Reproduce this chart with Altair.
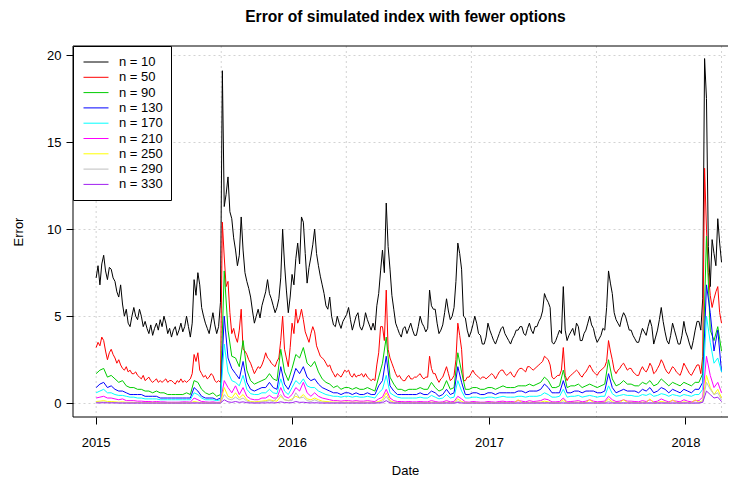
import altair as alt
import pandas as pd

title_text = "Error of simulated index with fewer options"
x_title = "Date"
y_title = "Error"

start_date = "2015-01-02"
# n = 10 and n = 50 are read twice a week, the other series once a week
fine_points, fine_step = 333, "84h"
coarse_points, coarse_step = 167, "7D"

series_names = ["n = 10", "n = 50", "n = 90", "n = 130", "n = 170",
                "n = 210", "n = 250", "n = 290", "n = 330"]
series_colors = ["#000000", "#FF0000", "#00CD00", "#0000FF", "#00FFFF",
                 "#FF00FF", "#FFFF00", "#BEBEBE", "#A020F0"]

year_ticks = [2015, 2016, 2017, 2018]
y_ticks = [0, 5, 10, 15, 20]

err_n10 = [
    7.2, 7.9, 6.8, 8.0, 8.5, 7.6, 7.1, 7.8, 7.7, 7.2,
    7.0, 6.4, 6.1, 6.8, 5.7, 5.0, 5.4, 4.6, 4.4, 5.0,
    5.5, 5.0, 4.8, 5.4, 5.0, 4.4, 4.7, 4.3, 4.0, 4.5,
    3.9, 4.3, 4.6, 4.2, 4.8, 4.4, 5.0, 4.6, 4.0, 4.3,
    3.8, 4.2, 4.4, 3.9, 4.2, 4.6, 4.1, 4.4, 5.0, 4.4,
    3.8, 4.6, 7.1, 6.2, 7.5, 6.8, 5.5, 5.0, 4.6, 4.3,
    4.0, 4.6, 5.2, 4.5, 4.0, 4.4, 5.8, 19.1, 11.3, 12.0,
    13.0, 11.0, 10.6, 9.5, 8.8, 7.9, 8.5, 10.7, 8.8, 7.5,
    7.0, 6.6, 6.1, 5.3, 4.6, 5.0, 5.4, 4.9, 5.6, 6.0,
    6.4, 7.1, 6.3, 6.0, 5.6, 5.2, 5.5, 6.0, 7.2, 10.0,
    8.0, 6.5, 5.2, 6.1, 7.4, 6.8, 8.3, 9.2, 8.0, 10.7,
    10.4, 8.6, 6.9, 7.8, 8.4, 9.1, 10.0, 8.6, 7.9, 7.3,
    6.8, 6.3, 5.6, 5.4, 6.1, 5.0, 4.5, 4.4, 5.0, 4.6,
    4.3, 4.7, 4.9, 5.1, 5.5, 4.8, 4.2, 4.6, 5.0, 5.2,
    4.4, 4.2, 4.5, 5.2, 4.8, 4.5, 4.2, 4.6, 4.2, 5.6,
    6.3, 7.6, 8.8, 7.5, 11.5, 9.0, 7.7, 6.2, 5.4, 4.6,
    4.3, 4.0, 3.8, 4.3, 4.4, 4.0, 4.3, 4.6, 4.2, 3.9,
    3.9, 4.4, 5.0, 4.6, 4.4, 4.1, 4.3, 6.5, 5.6, 5.4,
    5.4, 4.6, 4.0, 4.2, 4.5, 5.2, 6.0, 5.3, 4.8, 5.0,
    5.5, 7.0, 9.2, 8.6, 7.7, 5.0, 4.9, 4.2, 3.8, 4.1,
    4.5, 5.0, 4.6, 4.0, 3.9, 3.4, 3.4, 3.8, 4.6, 4.2,
    3.9, 3.6, 3.4, 3.7, 4.0, 4.3, 4.4, 4.0, 3.8, 3.6,
    3.4, 3.7, 3.9, 4.2, 4.2, 4.4, 4.4, 4.0, 3.9, 4.3,
    4.6, 4.2, 4.0, 4.4, 4.4, 4.7, 4.9, 5.3, 6.3, 6.0,
    5.8, 5.5, 3.5, 3.4, 3.6, 3.9, 4.2, 4.0, 6.7, 4.2,
    3.6, 3.9, 4.1, 4.3, 3.9, 4.6, 4.4, 3.6, 3.6, 4.0,
    4.2, 4.6, 5.0, 4.5, 4.3, 3.8, 3.5, 3.7, 3.9, 4.3,
    4.2, 5.5, 7.6, 6.9, 6.3, 5.2, 4.8, 4.6, 4.4, 4.9,
    5.2, 5.0, 4.6, 4.2, 4.2, 3.9, 3.7, 3.5, 3.5, 3.9,
    4.3, 4.1, 3.9, 4.4, 4.8, 4.4, 3.4, 3.8, 4.2, 4.8,
    5.5, 4.7, 4.1, 3.6, 3.4, 3.9, 4.6, 4.2, 3.8, 3.4,
    3.4, 3.9, 4.7, 4.1, 3.8, 3.4, 3.1, 3.6, 4.2, 4.7,
    4.7, 4.2, 6.0, 19.8, 17.5, 9.0, 6.7, 9.4, 8.6, 7.9,
    10.6, 9.2, 8.1,
]

err_n50 = [
    3.2, 3.5, 3.3, 3.8, 3.6, 3.0, 2.5, 2.9, 3.1, 2.8,
    2.6, 2.3, 2.5, 2.2, 2.0, 1.9, 2.1, 1.8, 1.9, 1.7,
    1.7, 1.8, 1.6, 1.5, 1.4, 1.6, 1.3, 1.4, 1.5, 1.3,
    1.2, 1.3, 1.4, 1.2, 1.3, 1.2, 1.3, 1.4, 1.2, 1.3,
    1.3, 1.2, 1.1, 1.3, 1.2, 1.4, 1.2, 1.3, 1.2, 1.3,
    1.4, 1.7, 2.8, 2.4, 2.9, 1.9, 1.7, 1.5, 1.6, 1.4,
    1.5, 1.7, 1.6, 1.3, 1.2, 1.3, 1.2, 10.4, 8.4, 6.7,
    7.0, 5.2, 4.0, 4.3, 3.8, 3.5, 4.2, 5.4, 3.1, 3.0,
    2.8, 2.5, 2.3, 2.0, 1.7, 1.9, 2.1, 2.0, 2.2, 2.5,
    2.9, 2.6, 2.5, 2.3, 2.2, 2.1, 2.4, 2.6, 3.6, 5.0,
    3.1, 2.6, 2.1, 3.2, 4.6, 4.0, 5.4, 4.6, 4.9, 5.4,
    4.8, 4.1, 3.8, 3.5, 4.0, 4.4, 4.1, 3.3, 3.0, 2.7,
    2.6, 2.5, 2.3, 2.1, 2.2, 1.9, 1.7, 1.5, 1.7, 1.6,
    1.5, 1.7, 1.9, 1.8, 1.9, 1.6, 1.5, 1.7, 1.5, 1.6,
    1.6, 1.7, 1.5, 1.7, 1.5, 1.4, 1.3, 1.4, 1.3, 2.2,
    2.9, 4.4, 4.4, 3.6, 6.5, 3.1, 2.6, 2.3, 2.0, 1.7,
    1.5, 1.6, 1.4, 1.3, 1.3, 1.5, 1.6, 1.4, 1.4, 1.5,
    1.5, 1.6, 1.7, 1.5, 1.4, 1.5, 1.5, 2.7, 2.0, 1.7,
    1.7, 1.4, 1.2, 1.4, 1.5, 1.8, 2.1, 1.7, 1.3, 1.4,
    1.6, 2.5, 4.6, 3.9, 3.1, 1.3, 1.3, 1.5, 1.5, 1.7,
    1.9, 1.7, 1.6, 1.5, 1.4, 1.5, 1.5, 1.4, 1.5, 1.6,
    1.7, 1.6, 1.4, 1.6, 1.8, 1.9, 1.9, 1.7, 1.6, 1.7,
    1.8, 1.6, 1.5, 1.7, 1.9, 2.0, 2.0, 1.9, 1.8, 2.1,
    2.1, 2.0, 1.9, 2.0, 2.1, 2.2, 2.3, 2.4, 2.7, 2.6,
    2.5, 2.2, 1.5, 1.4, 1.5, 1.6, 1.6, 1.9, 3.2, 1.6,
    1.3, 1.5, 1.6, 1.7, 1.8, 1.9, 1.8, 1.6, 1.5, 1.7,
    1.8, 2.0, 2.2, 2.0, 1.8, 1.7, 1.6, 1.8, 1.9, 2.0,
    2.1, 2.4, 3.6, 3.0, 2.5, 1.9, 1.7, 1.9, 2.0, 2.2,
    2.3, 2.1, 1.9, 2.0, 2.0, 1.8, 1.7, 1.6, 1.6, 1.9,
    2.1, 1.9, 1.8, 2.0, 2.3, 2.1, 1.7, 1.8, 2.0, 2.2,
    2.5, 2.3, 2.0, 1.8, 1.7, 1.9, 2.1, 2.0, 1.8, 1.7,
    1.6, 1.9, 2.3, 2.1, 1.9, 1.7, 1.6, 1.8, 2.0, 2.2,
    2.2, 1.7, 2.7, 13.5, 10.0, 7.5, 6.2, 5.5, 6.0, 6.4,
    6.7, 5.2, 4.6,
]

err_n90 = [
    1.7, 1.9, 2.0, 1.5, 1.6, 1.4, 1.2, 1.3, 1.0, 0.9,
    0.9, 0.8, 0.8, 0.7, 0.7, 0.6, 0.7, 0.6, 0.6, 0.5,
    0.5, 0.5, 0.5, 0.5, 0.6, 0.5, 1.3, 1.2, 0.8, 0.6,
    0.5, 0.6, 0.4, 0.5, 7.6, 4.2, 2.7, 2.6, 2.1, 3.6,
    1.9, 1.3, 1.1, 1.2, 1.3, 1.4, 1.7, 1.4, 1.3, 3.1,
    1.8, 1.3, 2.0, 2.8, 2.6, 3.2, 2.3, 2.1, 2.4, 1.8,
    1.4, 1.2, 1.1, 0.9, 1.0, 0.8, 0.9, 0.9, 0.8, 0.9,
    0.8, 0.8, 0.9, 0.8, 0.7, 1.5, 2.3, 3.8, 1.5, 1.1,
    0.8, 0.8, 0.7, 0.8, 0.8, 0.8, 0.9, 0.8, 0.8, 1.2,
    0.9, 0.7, 0.8, 1.3, 0.8, 0.9, 2.9, 1.8, 0.8, 0.8,
    0.9, 0.9, 0.8, 0.8, 0.9, 0.9, 0.8, 0.9, 1.0, 0.9,
    0.9, 0.9, 1.0, 1.0, 1.0, 1.1, 1.0, 1.1, 1.2, 1.5,
    1.3, 0.9, 0.9, 1.0, 1.9, 0.9, 1.0, 1.0, 1.1, 0.9,
    1.0, 1.1, 1.0, 0.9, 1.0, 1.1, 2.5, 1.4, 1.0, 1.1,
    1.3, 1.1, 1.1, 1.0, 1.0, 1.2, 1.1, 1.3, 1.0, 1.1,
    1.4, 1.2, 1.0, 1.2, 1.1, 1.0, 1.2, 1.1, 1.0, 1.2,
    1.2, 1.7, 9.6, 4.2, 3.6, 4.4, 3.0,
]

err_n130 = [
    0.9, 1.1, 1.2, 0.9, 1.0, 0.8, 0.7, 0.7, 0.6, 0.5,
    0.5, 0.5, 0.5, 0.4, 0.4, 0.4, 0.4, 0.3, 0.3, 0.3,
    0.3, 0.3, 0.3, 0.3, 0.3, 0.3, 0.9, 0.7, 0.4, 0.3,
    0.3, 0.3, 0.2, 0.3, 5.0, 2.6, 2.0, 1.7, 1.4, 2.4,
    1.2, 0.8, 0.7, 0.8, 0.9, 0.9, 1.2, 0.9, 0.8, 2.1,
    1.1, 0.8, 1.3, 2.0, 1.7, 2.1, 1.5, 1.3, 1.4, 1.1,
    0.9, 0.8, 0.7, 0.6, 0.6, 0.5, 0.6, 0.6, 0.5, 0.6,
    0.5, 0.5, 0.6, 0.5, 0.5, 1.0, 1.3, 2.7, 1.0, 0.7,
    0.5, 0.5, 0.5, 0.5, 0.5, 0.5, 0.6, 0.5, 0.5, 0.7,
    0.6, 0.4, 0.5, 0.8, 0.5, 0.6, 2.1, 1.2, 0.5, 0.5,
    0.6, 0.6, 0.5, 0.5, 0.6, 0.6, 0.5, 0.6, 0.6, 0.6,
    0.6, 0.6, 0.7, 0.7, 0.6, 0.7, 0.7, 0.7, 0.8, 1.1,
    0.9, 0.6, 0.6, 0.6, 1.3, 0.6, 0.6, 0.7, 0.7, 0.6,
    0.7, 0.7, 0.7, 0.6, 0.6, 0.7, 1.7, 0.9, 0.6, 0.7,
    0.8, 0.7, 0.7, 0.7, 0.6, 0.8, 0.7, 0.9, 0.6, 0.7,
    0.9, 0.8, 0.6, 0.8, 0.7, 0.6, 0.8, 0.7, 0.6, 0.8,
    0.8, 1.2, 6.8, 5.2, 3.0, 4.2, 1.8,
]

err_n170 = [
    0.6, 0.7, 0.8, 0.6, 0.6, 0.5, 0.45, 0.45, 0.4, 0.35,
    0.35, 0.3, 0.3, 0.25, 0.25, 0.25, 0.25, 0.2, 0.2, 0.2,
    0.2, 0.2, 0.2, 0.2, 0.2, 0.2, 0.6, 0.5, 0.3, 0.2,
    0.2, 0.2, 0.15, 0.2, 3.4, 1.8, 1.3, 1.2, 1.0, 1.6,
    0.8, 0.55, 0.5, 0.5, 0.6, 0.6, 0.8, 0.6, 0.55, 1.4,
    0.7, 0.5, 0.9, 1.3, 1.1, 1.4, 1.0, 0.9, 0.9, 0.7,
    0.6, 0.5, 0.45, 0.4, 0.4, 0.35, 0.4, 0.4, 0.35, 0.4,
    0.35, 0.35, 0.4, 0.35, 0.3, 0.6, 0.8, 1.6, 0.6, 0.45,
    0.35, 0.3, 0.3, 0.3, 0.3, 0.3, 0.35, 0.3, 0.3, 0.45,
    0.35, 0.25, 0.3, 0.5, 0.3, 0.35, 1.3, 0.7, 0.3, 0.3,
    0.35, 0.35, 0.3, 0.3, 0.35, 0.35, 0.3, 0.35, 0.4, 0.35,
    0.35, 0.35, 0.4, 0.4, 0.35, 0.4, 0.4, 0.4, 0.45, 0.6,
    0.5, 0.35, 0.35, 0.4, 0.8, 0.35, 0.4, 0.4, 0.45, 0.35,
    0.4, 0.45, 0.4, 0.35, 0.4, 0.4, 1.0, 0.55, 0.4, 0.45,
    0.5, 0.45, 0.45, 0.4, 0.4, 0.5, 0.45, 0.55, 0.4, 0.45,
    0.55, 0.5, 0.4, 0.5, 0.45, 0.4, 0.5, 0.45, 0.4, 0.5,
    0.5, 0.8, 5.0, 3.5, 2.3, 2.6, 1.8,
]

err_n210 = [
    0.3, 0.35, 0.4, 0.3, 0.3, 0.25, 0.2, 0.25, 0.15, 0.15,
    0.15, 0.12, 0.12, 0.1, 0.1, 0.08, 0.1, 0.08, 0.08, 0.06,
    0.06, 0.06, 0.06, 0.08, 0.08, 0.06, 0.3, 0.2, 0.1, 0.08,
    0.06, 0.08, 0.05, 0.06, 1.3, 0.9, 0.6, 1.0, 0.5, 0.9,
    0.4, 0.25, 0.2, 0.2, 0.3, 0.3, 0.45, 0.3, 0.3, 0.9,
    0.4, 0.3, 0.5, 0.9, 0.7, 1.2, 0.6, 0.4, 0.6, 0.4,
    0.3, 0.25, 0.2, 0.15, 0.15, 0.12, 0.15, 0.15, 0.12, 0.15,
    0.12, 0.12, 0.15, 0.12, 0.1, 0.25, 0.35, 0.8, 0.3, 0.15,
    0.1, 0.1, 0.08, 0.1, 0.08, 0.08, 0.1, 0.08, 0.08, 0.15,
    0.1, 0.06, 0.08, 0.15, 0.08, 0.1, 0.4, 0.25, 0.08, 0.06,
    0.1, 0.08, 0.06, 0.06, 0.1, 0.08, 0.06, 0.1, 0.12, 0.08,
    0.1, 0.08, 0.15, 0.12, 0.08, 0.15, 0.1, 0.12, 0.15, 0.25,
    0.2, 0.08, 0.08, 0.1, 0.3, 0.08, 0.1, 0.12, 0.15, 0.08,
    0.12, 0.2, 0.12, 0.08, 0.1, 0.12, 0.4, 0.2, 0.1, 0.12,
    0.2, 0.12, 0.12, 0.1, 0.08, 0.15, 0.1, 0.2, 0.08, 0.12,
    0.25, 0.15, 0.08, 0.15, 0.12, 0.08, 0.2, 0.12, 0.08, 0.15,
    0.15, 0.35, 2.7, 1.6, 0.9, 1.2, 0.6,
]

err_n250 = [
    0.1, 0.12, 0.15, 0.1, 0.1, 0.08, 0.06, 0.08, 0.05, 0.05,
    0.05, 0.04, 0.04, 0.03, 0.03, 0.03, 0.03, 0.02, 0.02, 0.02,
    0.02, 0.02, 0.02, 0.02, 0.03, 0.02, 0.1, 0.06, 0.03, 0.02,
    0.02, 0.02, 0.02, 0.02, 0.9, 0.4, 0.3, 0.6, 0.3, 0.5,
    0.2, 0.1, 0.08, 0.1, 0.12, 0.15, 0.2, 0.15, 0.12, 0.4,
    0.2, 0.15, 0.25, 0.4, 0.3, 0.5, 0.25, 0.2, 0.3, 0.2,
    0.12, 0.1, 0.08, 0.06, 0.06, 0.05, 0.06, 0.06, 0.05, 0.06,
    0.05, 0.05, 0.06, 0.05, 0.04, 0.1, 0.2, 0.6, 0.15, 0.06,
    0.04, 0.04, 0.03, 0.04, 0.03, 0.03, 0.04, 0.03, 0.03, 0.06,
    0.04, 0.03, 0.03, 0.06, 0.03, 0.04, 0.25, 0.1, 0.03, 0.03,
    0.04, 0.03, 0.03, 0.03, 0.04, 0.03, 0.03, 0.04, 0.05, 0.03,
    0.04, 0.03, 0.2, 0.04, 0.03, 0.06, 0.04, 0.05, 0.06, 0.12,
    0.08, 0.03, 0.03, 0.04, 0.2, 0.03, 0.04, 0.05, 0.06, 0.03,
    0.05, 0.2, 0.05, 0.03, 0.04, 0.05, 0.25, 0.08, 0.04, 0.05,
    0.2, 0.05, 0.05, 0.04, 0.03, 0.06, 0.04, 0.25, 0.03, 0.05,
    0.1, 0.06, 0.03, 0.2, 0.05, 0.03, 0.08, 0.05, 0.03, 0.2,
    0.06, 0.15, 1.6, 0.9, 0.5, 0.8, 0.3,
]

err_n290 = [
    0.05, 0.06, 0.07, 0.05, 0.05, 0.04, 0.03, 0.03, 0.02, 0.02,
    0.02, 0.02, 0.02, 0.01, 0.01, 0.01, 0.01, 0.01, 0.01, 0.01,
    0.01, 0.01, 0.01, 0.01, 0.01, 0.01, 0.05, 0.03, 0.01, 0.01,
    0.01, 0.01, 0.01, 0.01, 0.5, 0.25, 0.2, 0.35, 0.2, 0.3,
    0.12, 0.06, 0.05, 0.05, 0.08, 0.1, 0.15, 0.1, 0.3, 0.5,
    0.2, 0.15, 0.15, 0.6, 0.3, 0.35, 0.15, 0.1, 0.2, 0.1,
    0.06, 0.05, 0.04, 0.03, 0.03, 0.03, 0.03, 0.03, 0.02, 0.03,
    0.02, 0.02, 0.03, 0.02, 0.02, 0.05, 0.1, 0.4, 0.08, 0.03,
    0.02, 0.02, 0.01, 0.02, 0.01, 0.01, 0.02, 0.01, 0.01, 0.02,
    0.02, 0.01, 0.01, 0.03, 0.01, 0.02, 0.12, 0.05, 0.01, 0.01,
    0.02, 0.01, 0.01, 0.01, 0.02, 0.01, 0.01, 0.02, 0.02, 0.01,
    0.02, 0.01, 0.03, 0.02, 0.01, 0.02, 0.02, 0.02, 0.03, 0.05,
    0.04, 0.01, 0.01, 0.02, 0.08, 0.01, 0.02, 0.02, 0.02, 0.01,
    0.02, 0.03, 0.02, 0.01, 0.02, 0.02, 0.1, 0.04, 0.02, 0.02,
    0.03, 0.02, 0.02, 0.02, 0.01, 0.02, 0.02, 0.03, 0.01, 0.02,
    0.03, 0.02, 0.01, 0.02, 0.02, 0.01, 0.03, 0.02, 0.01, 0.02,
    0.03, 0.1, 1.2, 0.8, 0.5, 0.6, 0.2,
]

err_n330 = [
    0.02, 0.02, 0.03, 0.02, 0.02, 0.02, 0.01, 0.01, 0.01, 0.01,
    0.01, 0.01, 0.01, 0.01, 0.01, 0.01, 0.01, 0.01, 0.01, 0.01,
    0.01, 0.01, 0.01, 0.01, 0.01, 0.01, 0.01, 0.01, 0.01, 0.01,
    0.01, 0.01, 0.01, 0.01, 0.2, 0.08, 0.05, 0.1, 0.05, 0.08,
    0.03, 0.02, 0.01, 0.01, 0.02, 0.02, 0.03, 0.02, 0.03, 0.08,
    0.04, 0.03, 0.03, 0.1, 0.05, 0.06, 0.03, 0.02, 0.03, 0.02,
    0.01, 0.01, 0.01, 0.01, 0.01, 0.01, 0.01, 0.01, 0.01, 0.01,
    0.01, 0.01, 0.01, 0.01, 0.01, 0.02, 0.03, 0.15, 0.02, 0.01,
    0.01, 0.01, 0.01, 0.01, 0.01, 0.01, 0.01, 0.01, 0.01, 0.01,
    0.01, 0.01, 0.01, 0.01, 0.01, 0.01, 0.04, 0.01, 0.01, 0.01,
    0.01, 0.01, 0.01, 0.01, 0.01, 0.01, 0.01, 0.01, 0.01, 0.01,
    0.01, 0.01, 0.01, 0.01, 0.01, 0.01, 0.01, 0.01, 0.01, 0.01,
    0.01, 0.01, 0.01, 0.01, 0.01, 0.01, 0.01, 0.01, 0.01, 0.01,
    0.01, 0.01, 0.01, 0.01, 0.01, 0.01, 0.01, 0.01, 0.01, 0.01,
    0.01, 0.01, 0.01, 0.01, 0.01, 0.01, 0.01, 0.01, 0.01, 0.01,
    0.01, 0.01, 0.01, 0.01, 0.01, 0.01, 0.01, 0.01, 0.01, 0.01,
    0.01, 0.05, 0.7, 0.5, 0.3, 0.35, 0.1,
]

all_series = [err_n10, err_n50, err_n90, err_n130, err_n170,
              err_n210, err_n250, err_n290, err_n330]

# ---------------------------------------------------------------- data table
fine_dates = pd.date_range(start=start_date, periods=fine_points, freq=fine_step)
coarse_dates = pd.date_range(start=start_date, periods=coarse_points, freq=coarse_step)

rows = []
for name, vals in zip(series_names, all_series):
    ds = fine_dates if len(vals) == fine_points else coarse_dates
    for d, v in zip(ds, vals):
        rows.append({"date": d.strftime("%Y-%m-%dT%H:%M:%S"), "value": v, "series": name})
df = pd.DataFrame(rows)

# R's grid(): dotted verticals at equal steps over the data range
span = coarse_dates[-1] - coarse_dates[0]
grid_df = pd.DataFrame({
    "date": [(coarse_dates[0] + span * k / 5).strftime("%Y-%m-%dT%H:%M:%S") for k in range(6)]
})

FONT = "Liberation Sans"
W, H = 655, 371

x_scale = alt.Scale(domain=[alt.DateTime(year=2014, month=11, date=20),
                            alt.DateTime(year=2018, month=3, date=21)])
x_axis = alt.Axis(values=[alt.DateTime(year=y, month=1, date=1) for y in year_ticks],
                  format="%Y", grid=False, tickSize=7, labelPadding=12,
                  titlePadding=15, labelFlush=False, labelOverlap=False,
                  titleX=332)
y_scale = alt.Scale(domain=[-0.79, 20.52], nice=False, zero=False)
y_axis = alt.Axis(values=y_ticks, grid=True, gridColor="#D3D3D3", gridDash=[2, 3],
                  tickSize=7, labelPadding=5, titlePadding=21, labelAngle=0)

color_enc = alt.Color(
    "series:N",
    scale=alt.Scale(domain=series_names, range=series_colors),
    legend=alt.Legend(
        title=None, orient="none", legendX=0, legendY=0, direction="vertical",
        strokeColor="black", fillColor="white", padding=8, cornerRadius=0,
        symbolType="M-0.733,0L2.6,0", symbolSize=225, symbolStrokeWidth=1,
        labelOffset=22, rowPadding=0.3, labelFont=FONT, labelFontSize=13,
        labelColor="black",
    ),
)

grid_layer = alt.Chart(grid_df).mark_rule(
    color="#D3D3D3", strokeDash=[2, 3], strokeWidth=1
).encode(x=alt.X("date:T", scale=x_scale, axis=x_axis, title=x_title))

line_layers = []
for name in series_names:
    line_layers.append(
        alt.Chart(df).transform_filter(alt.datum.series == name)
        .mark_line(strokeWidth=1)
        .encode(
            x=alt.X("date:T", scale=x_scale, axis=x_axis, title=x_title),
            y=alt.Y("value:Q", scale=y_scale, axis=y_axis, title=y_title),
            color=color_enc,
        )
    )

# plot frame (left, top, bottom); the right side lies beyond the picture
frame_df = pd.DataFrame({"k": [0]})
frame = alt.Chart(frame_df)
frame_layers = [
    frame.mark_rule(color="black", strokeWidth=1).encode(
        x=alt.value(0), x2=alt.value(W + 10), y=alt.value(0)),
    frame.mark_rule(color="black", strokeWidth=1).encode(
        x=alt.value(0), x2=alt.value(W + 10), y=alt.value(H)),
    frame.mark_rule(color="black", strokeWidth=1).encode(
        x=alt.value(0), y=alt.value(0), y2=alt.value(H)),
]

chart = alt.layer(grid_layer, *line_layers, *frame_layers).properties(
    width=W,
    height=H,
    title=alt.TitleParams(title_text, font=FONT, fontSize=15.6, fontWeight="bold",
                          anchor="middle", offset=20, dx=5, color="black"),
    autosize=alt.AutoSizeParams(type="none"),
    padding={"left": 65, "top": 38, "right": 0, "bottom": 60},
).configure_view(
    strokeWidth=0
).configure_axis(
    domain=False, tickColor="black", labelColor="black", titleColor="black",
    labelFont=FONT, titleFont=FONT, labelFontSize=13, titleFontSize=13,
    titleFontWeight="normal",
)

chart.save("out.html", embed_options={"renderer": "svg", "actions": False})
